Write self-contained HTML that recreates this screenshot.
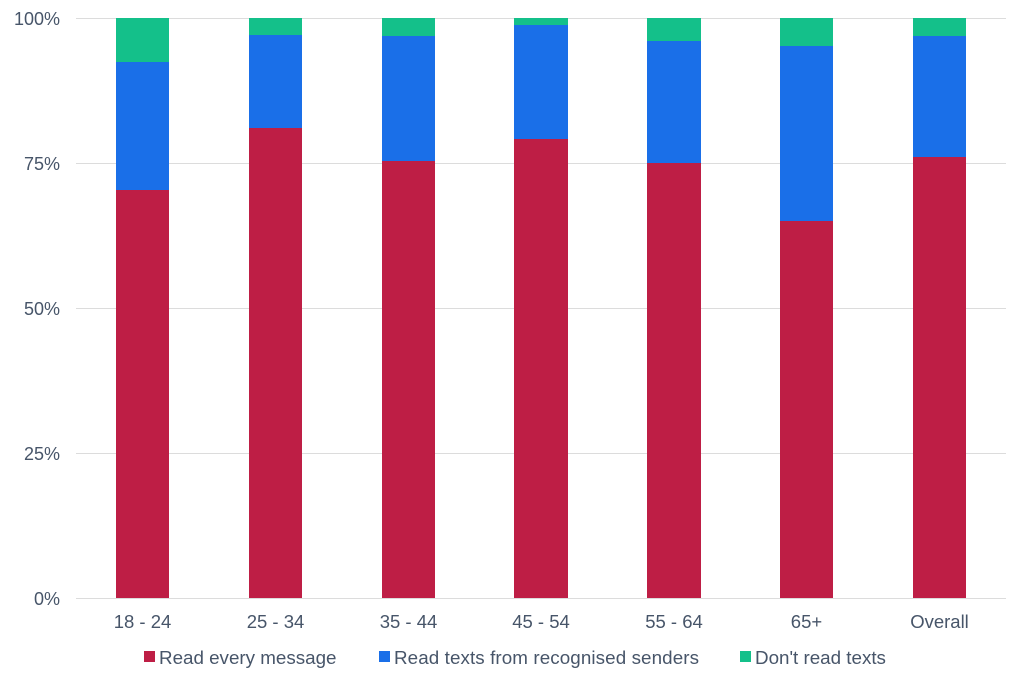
<!DOCTYPE html>
<html><head><style>body{margin:0;background:#fff}svg{display:block}text{font-family:"Liberation Sans",sans-serif;fill:#475569}</style></head>
<body>
<svg width="1024" height="682" xmlns="http://www.w3.org/2000/svg">
<g stroke="#dcdcdc" stroke-width="1">
<line x1="76" y1="18.5" x2="1006" y2="18.5"/>
<line x1="76" y1="163.5" x2="1006" y2="163.5"/>
<line x1="76" y1="308.5" x2="1006" y2="308.5"/>
<line x1="76" y1="453.5" x2="1006" y2="453.5"/>
<line x1="76" y1="598.5" x2="1006" y2="598.5"/>
</g>
<g font-size="18" text-anchor="end">
<text x="60" y="25">100%</text><text x="60" y="170">75%</text><text x="60" y="315">50%</text><text x="60" y="460">25%</text><text x="60" y="605">0%</text>
</g>
<g>
<rect x="116" y="18" width="53" height="45" fill="#14c08a"/><rect x="116" y="62" width="53" height="128" fill="#1a6fe8"/><rect x="116" y="190" width="53" height="408" fill="#be1e45"/>
<rect x="249" y="18" width="53" height="18" fill="#14c08a"/><rect x="249" y="35" width="53" height="93" fill="#1a6fe8"/><rect x="249" y="128" width="53" height="470" fill="#be1e45"/>
<rect x="382" y="18" width="53" height="19" fill="#14c08a"/><rect x="382" y="36" width="53" height="125" fill="#1a6fe8"/><rect x="382" y="161" width="53" height="437" fill="#be1e45"/>
<rect x="514" y="18" width="54" height="8" fill="#14c08a"/><rect x="514" y="25" width="54" height="114" fill="#1a6fe8"/><rect x="514" y="139" width="54" height="459" fill="#be1e45"/>
<rect x="647" y="18" width="54" height="24" fill="#14c08a"/><rect x="647" y="41" width="54" height="122" fill="#1a6fe8"/><rect x="647" y="163" width="54" height="435" fill="#be1e45"/>
<rect x="780" y="18" width="53" height="29" fill="#14c08a"/><rect x="780" y="46" width="53" height="175" fill="#1a6fe8"/><rect x="780" y="221" width="53" height="377" fill="#be1e45"/>
<rect x="913" y="18" width="53" height="19" fill="#14c08a"/><rect x="913" y="36" width="53" height="121" fill="#1a6fe8"/><rect x="913" y="157" width="53" height="441" fill="#be1e45"/>
</g>
<g font-size="18.5" text-anchor="middle">
<text x="142.5" y="628">18 - 24</text><text x="275.5" y="628">25 - 34</text><text x="408.5" y="628">35 - 44</text><text x="541" y="628">45 - 54</text><text x="674" y="628">55 - 64</text><text x="806.5" y="628">65+</text><text x="939.5" y="628">Overall</text>
</g>
<g font-size="18.8">
<rect x="144" y="651" width="11" height="11" fill="#be1e45"/><text x="159" y="664">Read every message</text>
<rect x="379" y="651" width="11" height="11" fill="#1a6fe8"/><text x="394" y="664" textLength="305">Read texts from recognised senders</text>
<rect x="740" y="651" width="11" height="11" fill="#14c08a"/><text x="755" y="664">Don't read texts</text>
</g>
</svg>
</body></html>
